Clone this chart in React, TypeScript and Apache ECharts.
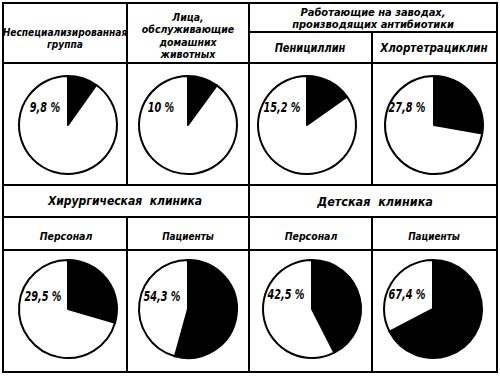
import React, { useEffect, useRef } from "react";
import * as echarts from "echarts";

// Column headers (one per pie), super headers, and the percent values
const groupNames = [
  "Неспециализированная\nгруппа",
  "Лица,\nобслуживающие\nдомашних\nживотных",
  "Пенициллин",
  "Хлортетрациклин",
  "Персонал",
  "Пациенты",
  "Персонал",
  "Пациенты",
];
const superHeaders = [
  "Работающие на заводах,\nпроизводящих антибиотики",
  "Хирургическая  клиника",
  "Детская  клиника",
];
const percents = [9.8, 10, 15.2, 27.8, 29.5, 54.3, 42.5, 67.4];

const fmt = (p: number) =>
  (Number.isInteger(p) ? String(p) : String(p).replace(".", ",")) + " %";

const FONT = "'DejaVu Sans Condensed', 'DejaVu Sans', sans-serif";

export default function App() {
  const ref = useRef<HTMLDivElement>(null);
  useEffect(() => {
    document.body.style.margin = "0";
    const chart = echarts.init(ref.current!, null, { renderer: "svg" });

    // layout
    const L = 3, R = 497, T = 3, B = 372;
    const cols = [3, 127, 249, 372, 497];
    const pieCenters: [number, number][] = [
      [68, 125], [188, 125], [307, 125], [434, 125],
      [68, 309], [188, 309], [312, 309], [433, 309],
    ];
    const labelPos: [number, number][] = [
      [45, 108], [161, 108], [282, 108], [407, 108],
      [43, 297], [162, 297], [286, 295], [407, 295],
    ];
    type P = { x: number; y: number; size: number; lh: number; sx: number };
    const headerPos: P[] = [
      { x: 65, y: 38, size: 11, lh: 12, sx: 0.92 },
      { x: 188, y: 36, size: 11, lh: 12.5, sx: 0.95 },
      { x: 310, y: 48, size: 11.5, lh: 12, sx: 0.95 },
      { x: 434, y: 48, size: 11.5, lh: 12, sx: 1 },
      { x: 66, y: 236, size: 11, lh: 12, sx: 0.95 },
      { x: 188, y: 236, size: 11, lh: 12, sx: 0.9 },
      { x: 311, y: 236, size: 11, lh: 12, sx: 0.95 },
      { x: 434, y: 236, size: 11, lh: 12, sx: 0.9 },
    ];
    const superPos: P[] = [
      { x: 373, y: 18, size: 11, lh: 12, sx: 1 },
      { x: 125, y: 201, size: 12.5, lh: 13, sx: 0.96 },
      { x: 375, y: 201, size: 12.5, lh: 13, sx: 1 },
    ];

    const lw = 2;
    const line = (x1: number, y1: number, x2: number, y2: number) => ({
      type: "line",
      shape: { x1, y1, x2, y2 },
      style: { stroke: "#000", lineWidth: lw },
      silent: true,
      z: 50,
    });

    const lines = [
      line(L, T, R, T),
      line(cols[2], 32, R, 32),
      line(L, 63, R, 63),
      line(L, 185, R, 185),
      line(L, 217, R, 217),
      line(L, 250, R, 250),
      line(L, B, R, B),
      line(L, T - 1, L, B + 1),
      line(R, T - 1, R, B + 1),
      line(cols[2], T, cols[2], B),
      line(cols[1], T, cols[1], 185),
      line(cols[1], 217, cols[1], B),
      line(cols[3], 32, cols[3], 185),
      line(cols[3], 217, cols[3], B),
    ];

    const textEl = (s: string, p: P) => ({
      type: "text",
      x: p.x,
      y: p.y,
      scaleX: p.sx,
      silent: true,
      z: 100,
      style: {
        text: s,
        fill: "#000",
        fontStyle: "italic",
        fontWeight: "bold",
        fontSize: p.size,
        fontFamily: FONT,
        textAlign: "center",
        textVerticalAlign: "middle",
        lineHeight: p.lh,
      },
    });

    const texts = [
      ...groupNames.map((g, i) => textEl(g, headerPos[i])),
      ...superHeaders.map((s, i) => textEl(s, superPos[i])),
      ...percents.map((p, i) =>
        textEl(fmt(p), { x: labelPos[i][0], y: labelPos[i][1], size: 13.5, lh: 14, sx: 0.8 })
      ),
    ];

    const series = percents.map((p, i) => ({
      type: "pie",
      center: pieCenters[i],
      radius: 49,
      startAngle: 90,
      clockwise: true,
      silent: true,
      z: 2,
      label: { show: false },
      labelLine: { show: false },
      itemStyle: { borderColor: "#000", borderWidth: 2 },
      data: [
        { value: p, itemStyle: { color: "#000" } },
        { value: 100 - p, itemStyle: { color: "#fff" } },
      ],
    }));

    chart.setOption({
      animation: false,
      backgroundColor: "#fff",
      series,
      graphic: [...lines, ...texts],
    });
    return () => chart.dispose();
  }, []);
  return (
    <div
      ref={ref}
      style={{ width: 500, height: 377, position: "absolute", left: 0, top: 0 }}
    />
  );
}
